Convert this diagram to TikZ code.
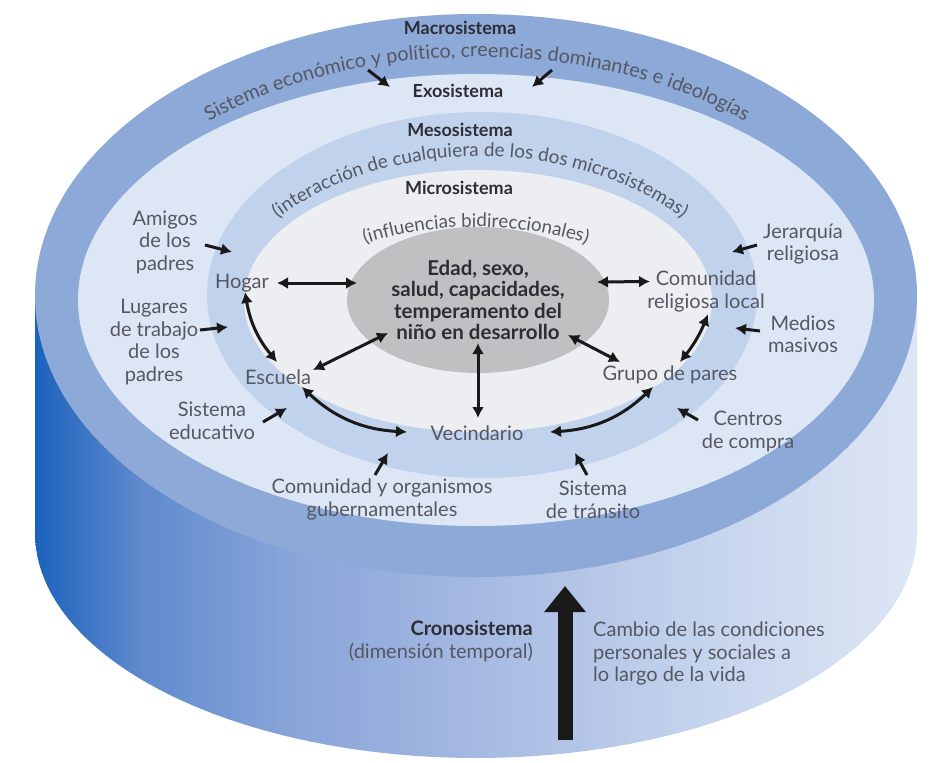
\documentclass[tikz,border=0pt]{standalone}
\usepackage{fontspec}
\setmainfont{Lato}
\usetikzlibrary{arrows.meta,calc,decorations.text,shapes.geometric}
\definecolor{macroC}{RGB}{141,169,216}
\definecolor{exoC}{RGB}{221,230,245}
\definecolor{mesoC}{RGB}{193,210,237}
\definecolor{microC}{RGB}{237,238,241}
\definecolor{coreC}{RGB}{192,192,194}
\definecolor{lblC}{RGB}{85,88,98}
\definecolor{ttlC}{RGB}{45,45,52}
\definecolor{arrC}{RGB}{25,25,25}
\definecolor{cA}{RGB}{28,98,188}
\definecolor{cB}{RGB}{95,138,205}
\definecolor{cC}{RGB}{135,163,216}
\definecolor{cD}{RGB}{165,185,226}
\definecolor{cE}{RGB}{195,210,236}
\definecolor{cF}{RGB}{222,230,245}
\pgfdeclarehorizontalshading{cylshade}{100bp}{color(0bp)=(cA); color(25bp)=(cA); color(31bp)=(cB); color(39bp)=(cC); color(50bp)=(cD); color(62bp)=(cE); color(75bp)=(cF); color(100bp)=(cF)}
\tikzset{
  lbl/.style={font=\fontsize{20}{22.5}\selectfont, text=lblC, align=center, inner sep=0pt},
  ttl/.style={font=\fontsize{18}{22}\selectfont\bfseries, text=ttlC, inner sep=0pt},
  core/.style={ellipse, fill=coreC, minimum width=262pt, minimum height=146pt, inner sep=0pt, align=center, font=\fontsize{20.5}{21.5}\selectfont\bfseries, text=ttlC},
  dbl/.style={draw=arrC, line width=3pt, {Latex[length=11pt,width=12pt]}-{Latex[length=11pt,width=12pt]}},
  sgl/.style={draw=arrC, line width=3pt, -{Latex[length=11pt,width=12pt]}},
}
\begin{document}
\begin{tikzpicture}[x=1pt,y=-1pt]
\useasboundingbox (0,0) rectangle (943,763);
\fill[white] (0,0) rectangle (943,763);
% cylinder body: side rectangle closed by the lower half of an ellipse
\shade[shading=cylshade] (35,295.5) -- plot[domain=180:360,samples=91] ({476+441*cos(\x)},{533-225*sin(\x)}) -- (917,295.5) -- cycle;
% top face
\fill[macroC] (476,295.5) ellipse[x radius=441pt,y radius=281.5pt];
\fill[exoC] (476,300) ellipse[x radius=398pt,y radius=226pt];
\fill[mesoC] (482,295) ellipse[x radius=275pt,y radius=183pt];
\fill[microC] (478,301) ellipse[x radius=234pt,y radius=131pt];
\node[core] (child) at (478,300) {Edad, sexo,\\salud, capacidades,\\temperamento del\\niño en desarrollo};
% titles
\node[ttl] (macro) at (460,28) {Macrosistema};
\node[ttl] (exo) at (458,91) {Exosistema};
\node[ttl] (meso) at (460,130) {Mesosistema};
\node[ttl] (micro) at (459,188) {Microsistema};
% arc texts
\path[decorate, decoration={text along path, text={|\fontsize{19.8}{22}\selectfont|Sistema económico y político, creencias dominantes e ideologías}, text align=center, text color=lblC}] (130.6,182) arc[start angle=150,end angle=30,x radius=400pt,y radius=250pt];
\path[decorate, decoration={text along path, text={|\fontsize{19}{22}\selectfont|(interacción de cualquiera de los dos microsistemas)}, text align=center, text color=lblC}] (217,288) arc[start angle=160,end angle=20,x radius=280pt,y radius=200pt];
\path[decorate, decoration={text along path, text={|\fontsize{18.8}{22}\selectfont|(influencias bidireccionales)}, text align=center, text color=lblC}] (302.8,277) arc[start angle=150,end angle=30,x radius=200pt,y radius=100pt];
% microsystem nodes
\node[lbl] (hogar) at (242,283) {Hogar};
\node[lbl] (comunidad) at (706,291.5) {Comunidad\\religiosa local};
\node[lbl] (escuela) at (278,377) {Escuela};
\node[lbl] (grupo) at (670,375) {Grupo de pares};
\node[lbl] (vecindario) at (477,433) {Vecindario};
% exosystem nodes
\node[lbl] (amigos) at (165,242) {Amigos\\de los\\padres};
\node[lbl] (lugares) at (154,342) {Lugares\\de trabajo\\de los\\padres};
\node[lbl] (sised) at (212,421) {Sistema\\educativo};
\node[lbl] (comorg) at (382,499.5) {Comunidad y organismos\\gubernamentales};
\node[lbl] (transito) at (593,500) {Sistema\\de tránsito};
\node[lbl] (centros) at (748,431.5) {Centros\\de compra};
\node[lbl] (medios) at (803,334) {Medios\\masivos};
\node[lbl] (jerarquia) at (803,244) {Jerarquía\\religiosa};
% chronosystem
\node[lbl, align=right, anchor=east] (crono) at (533,641.5) {\textbf{\textcolor{ttlC}{Cronosistema}}\\(dimensión temporal)};
\node[lbl, align=left, anchor=west] (cambio) at (593,653.5) {Cambio de las condiciones\\personales y sociales a\\lo largo de la vida};
\coordinate (chronoTop) at (565,586);
\coordinate (chronoBot) at (565,740);
\draw[arrC, line width=15pt, -{Triangle[length=26pt,width=40pt]}] (chronoBot) -- (chronoTop);
% bidirectional arrows
\draw[dbl] ($(hogar)+(35,0)$) -- ($(child)+(-121,-17)$);
\draw[dbl] ($(hogar)+(3,9)$) to[bend right=15] ($(escuela)+(-1,-15)$);
\draw[dbl] ($(escuela)+(35,-7)$) -- ($(child)+(-90,33)$);
\draw[dbl] ($(escuela)+(24,10)$) to[bend right=20] ($(vecindario)+(-70,-1)$);
\draw[dbl] ($(child)+(0,43)$) -- ($(vecindario)+(1,-15)$);
\draw[dbl] ($(child)+(119,-18)$) -- ($(comunidad)+(-56,-10)$);
\draw[dbl] ($(child)+(90,35)$) -- ($(grupo)+(-50,-13)$);
\draw[dbl] ($(comunidad)+(2,23)$) to[bend left=8] ($(grupo)+(10,-13)$);
\draw[dbl] ($(grupo)+(-17,12)$) to[bend left=20] ($(vecindario)+(73,-1)$);
% single arrows
\draw[sgl] ($(exo)+(-90,-21)$) -- ($(exo)+(-68,-4)$);
\draw[sgl] ($(exo)+(94,-21)$) -- ($(exo)+(74,-4)$);
\draw[sgl] ($(amigos)+(40,3)$) -- ($(hogar)+(-10,-31)$);
\draw[sgl] ($(lugares)+(46,-12)$) -- ($(hogar)+(-14,44)$);
\draw[sgl] ($(sised)+(51,1)$) -- ($(escuela)+(9,31)$);
\draw[sgl] ($(comorg)+(-7,-24.5)$) -- ($(vecindario)+(-89,20)$);
\draw[sgl] ($(transito)+(-6,-25)$) -- ($(vecindario)+(98,20)$);
\draw[sgl] ($(centros)+(-50,-11.5)$) -- ($(grupo)+(7,33)$);
\draw[sgl] ($(medios)+(-43,-3)$) -- ($(comunidad)+(29,36.5)$);
\draw[sgl] ($(jerarquia)+(-46,1)$) -- ($(comunidad)+(26,-39.5)$);
\end{tikzpicture}
\end{document}
